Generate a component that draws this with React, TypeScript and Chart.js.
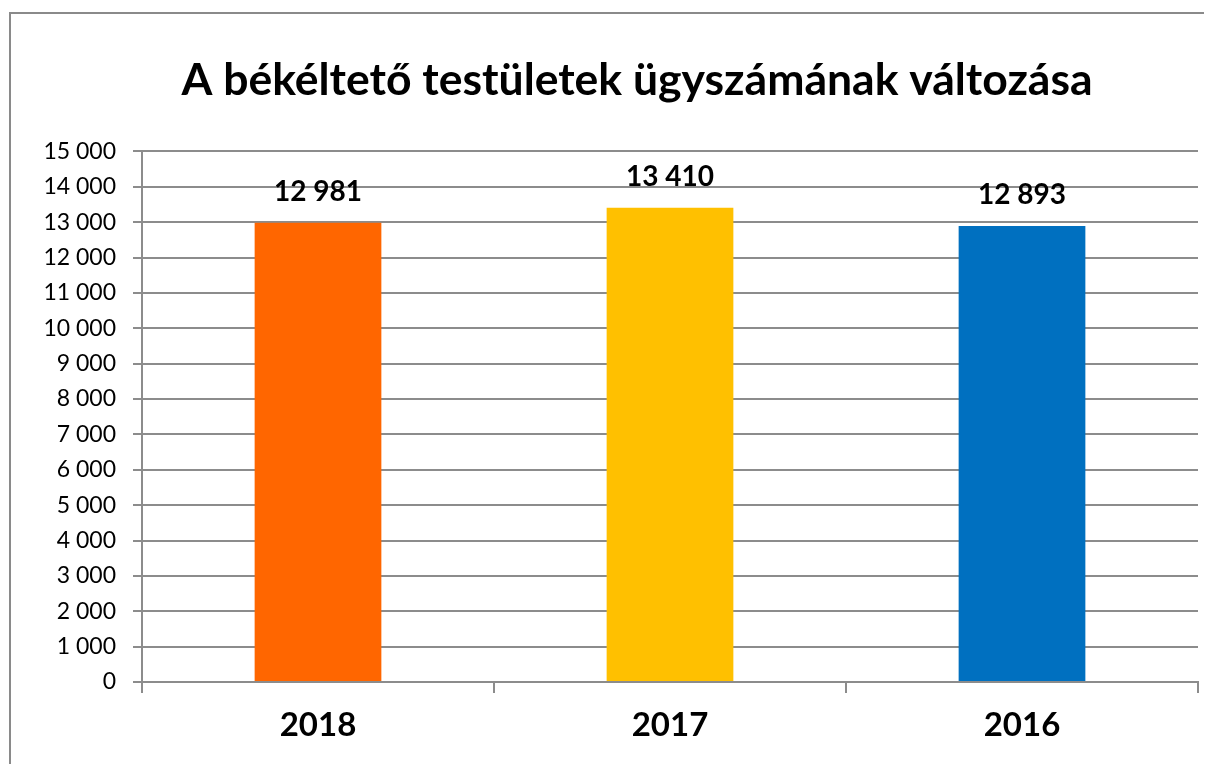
import React, { useEffect, useRef } from "react";
import { Chart, registerables } from "chart.js";

Chart.register(...registerables);

const TITLE = "A békéltető testületek ügyszámának változása";
const categories = ["2018", "2017", "2016"];
const values = [12981, 13410, 12893];
const barColors = ["#FF6600", "#FFC000", "#0070C0"];
const yMin = 0;
const yMax = 15000;
const yStep = 1000;

const FONT = "Lato, 'Open Sans', sans-serif";
const GRID = "#8c8c8c";

const fmt = (v: number) => String(v).replace(/\B(?=(\d{3})+(?!\d))/g, " ");

const borderPlugin = {
  id: "outerBorder",
  afterLayout(chart: any) {
    const tb = chart.titleBlock;
    if (tb) {
      tb.left += 34;
      tb.right += 34;
    }
  },
  beforeDraw(chart: any) {
    const ctx = chart.ctx;
    ctx.save();
    ctx.fillStyle = "#ffffff";
    ctx.fillRect(0, 0, chart.width, chart.height);
    ctx.strokeStyle = "#8a8a8a";
    ctx.lineWidth = 2;
    ctx.beginPath();
    ctx.moveTo(2, chart.height + 2);
    ctx.lineTo(2, 5);
    ctx.lineTo(chart.width + 2, 5);
    ctx.stroke();
    ctx.restore();
  },
};

const labelPlugin = {
  id: "barValueLabels",
  afterDatasetsDraw(chart: any) {
    const ctx = chart.ctx;
    const meta = chart.getDatasetMeta(0);
    ctx.save();
    ctx.font = `bold 28px ${FONT}`;
    ctx.fillStyle = "#000";
    ctx.textAlign = "center";
    ctx.textBaseline = "middle";
    meta.data.forEach((bar: any, i: number) => {
      ctx.fillText(fmt(values[i]), bar.x, bar.y - 31);
    });
    ctx.restore();
  },
};

export default function App() {
  const ref = useRef<HTMLCanvasElement | null>(null);
  useEffect(() => {
    document.documentElement.style.overflow = "hidden";
    const chart = new Chart(ref.current as HTMLCanvasElement, {
      type: "bar",
      data: {
        labels: categories,
        datasets: [
          {
            data: values,
            backgroundColor: barColors,
            borderWidth: 0,
            barPercentage: 0.36,
            categoryPercentage: 1,
          },
        ],
      },
      options: {
        responsive: false,
        animation: false,
        layout: { padding: { left: 0, right: 14, top: 0, bottom: 0 } },
        plugins: {
          legend: { display: false },
          tooltip: { enabled: false },
          title: {
            display: true,
            text: TITLE,
            color: "#000",
            font: { family: FONT, size: 44.5, weight: "bold", lineHeight: 1.2 },
            padding: { top: 46, bottom: 44 },
          },
        },
        scales: {
          x: {
            grid: {
              display: true,
              drawOnChartArea: false,
              drawTicks: true,
              tickLength: 11,
              color: GRID,
              lineWidth: 2,
              offset: true,
            },
            border: { display: true, color: GRID, width: 2 },
            ticks: {
              color: "#000",
              font: { family: FONT, size: 33, weight: "bold" },
              padding: 13,
            },
            afterFit: (s: any) => {
              s.height = 82;
            },
          },
          y: {
            min: yMin,
            max: yMax,
            grid: { color: GRID, lineWidth: 2, tickLength: 9, drawTicks: true },
            border: { display: true, color: GRID, width: 2 },
            ticks: {
              stepSize: yStep,
              color: "#000",
              font: { family: FONT, size: 23 },
              padding: 17,
              callback: (v: any) => fmt(Number(v)),
            },
            afterFit: (s: any) => {
              s.width = 134;
            },
          },
        },
      },
      plugins: [borderPlugin, labelPlugin],
    });
    return () => chart.destroy();
  }, []);
  return (
    <canvas
      ref={ref}
      width={1204}
      height={756}
      style={{ display: "block", width: 1204, height: 756 }}
    />
  );
}
